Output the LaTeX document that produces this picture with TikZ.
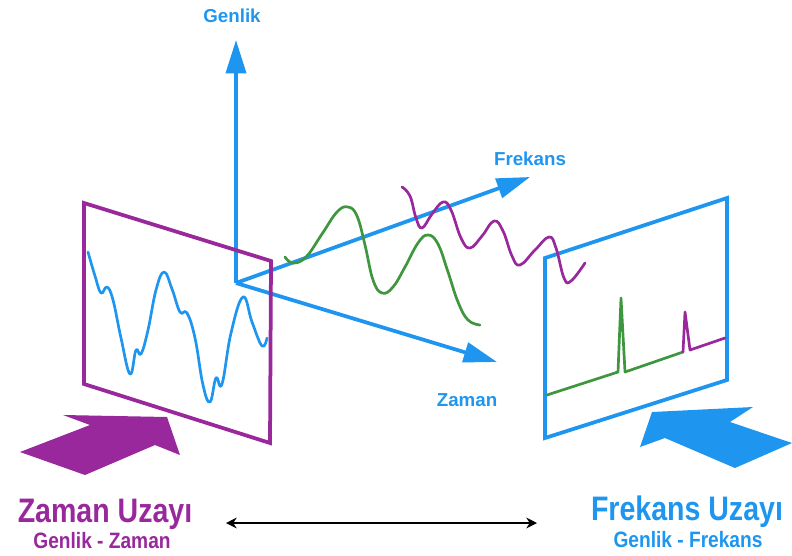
\documentclass[tikz,border=0pt]{standalone}
\usepackage{fontspec}
\setmainfont{Liberation Sans}
\usetikzlibrary{arrows.meta, positioning}
\definecolor{zamanpurple}{RGB}{152, 40, 155}
\definecolor{frekblue}{RGB}{30, 150, 240}
\definecolor{sigreen}{RGB}{62, 150, 62}

\begin{document}
\begin{tikzpicture}[x=0.03cm, y=-0.03cm,
    axis/.style={draw=frekblue, line width=3.2pt, -{Triangle[length=1cm, width=0.6cm]}},
    panel/.style={line width=3.2pt, line join=miter},
    wave/.style={line width=2.3pt, line cap=round, line join=round},
    bigarrow/.style={draw=none},
    axlabel/.style={text=frekblue, font=\bfseries\fontsize{16}{19}\selectfont},
    title/.style={anchor=base, xscale=0.84, transform shape, font=\bfseries\fontsize{29}{34}\selectfont},
    subtitle/.style={anchor=base, xscale=0.86, transform shape, font=\bfseries\fontsize{19}{22}\selectfont}]
    \useasboundingbox (0,0) rectangle (792,555);

    % axes
    \coordinate (o) at (236,283);
    \coordinate (gtip) at (236,40);
    \coordinate (ftip) at (530,177);
    \coordinate (ztip) at (497,362);
    \draw[axis] (o) -- (gtip);
    \draw[axis] (o) -- (ftip);
    \draw[axis] (o) -- (ztip);
    \node[axlabel] (genlik) at (232,16) {Genlik};
    \node[axlabel] (frekans) at (530,159) {Frekans};
    \node[axlabel] (zaman) at (467,400) {Zaman};

    % time domain panel
    \draw[zamanpurple, panel] (84,203) -- (271,261) -- (270,443) -- (84,384) -- cycle;
    \draw[frekblue, wave] plot[smooth, tension=0.7] coordinates {(88,252) (95,276) (101,293) (107,287) (113,300) (121,338) (130,374) (136,350) (141,354) (148,330) (156,290) (164,272) (172,289) (180,312) (187,313) (195,338) (203,385) (210,402) (216,378) (222,384) (231,333) (243,297) (252,322) (262,346) (267,338)};

    % frequency domain panel
    \draw[frekblue, panel] (545,258) -- (727,198) -- (727,380) -- (545,438) -- cycle;
    \draw[sigreen, wave] (547,395) -- (618,372) -- (621,298) -- (625,372) -- (683,352);
    \draw[zamanpurple, wave] (683,352) -- (685,312) -- (690,350) -- (725,338);

    % signals
    \draw[sigreen, wave] plot[smooth, tension=0.7] coordinates {(285,257) (293,263) (306,257) (322,234) (337,212) (348,207) (357,216) (365,245) (373,280) (382,293) (393,287) (405,267) (418,243) (428,235) (438,244) (448,272) (458,302) (468,320) (480,325)};
    \draw[zamanpurple, wave] plot[smooth, tension=0.7] coordinates {(402,187) (410,196) (416,218) (422,228) (432,214) (443,202) (451,210) (461,238) (470,248) (482,236) (494,221) (503,231) (512,256) (520,265) (535,250) (549,237) (556,248) (564,278) (571,281) (585,263)};

    % big arrows
    \fill[zamanpurple, bigarrow] (20,452) -- (90,425) -- (63,415) -- (167,417) -- (180,455) -- (155,445) -- (85,475) -- cycle;
    \fill[frekblue, bigarrow] (652,412) -- (753,407) -- (730,422) -- (792,443) -- (735,468) -- (665,438) -- (640,447) -- cycle;

    % titles
    \node[title, text=zamanpurple] (zamanuzay) at (105,522) {Zaman Uzayı};
    \node[subtitle, text=zamanpurple] (genzam) at (102,548) {Genlik - Zaman};
    \node[title, text=frekblue] (frekuzay) at (687,520) {Frekans Uzayı};
    \node[subtitle, text=frekblue] (genfrek) at (688,547) {Genlik - Frekans};

    \coordinate (dl) at (226,523);
    \coordinate (dr) at (537,523);
    \draw[line width=1.5pt, {Stealth[length=0.32cm, width=0.32cm]}-{Stealth[length=0.32cm, width=0.32cm]}] (dl) -- (dr);
\end{tikzpicture}
\end{document}
